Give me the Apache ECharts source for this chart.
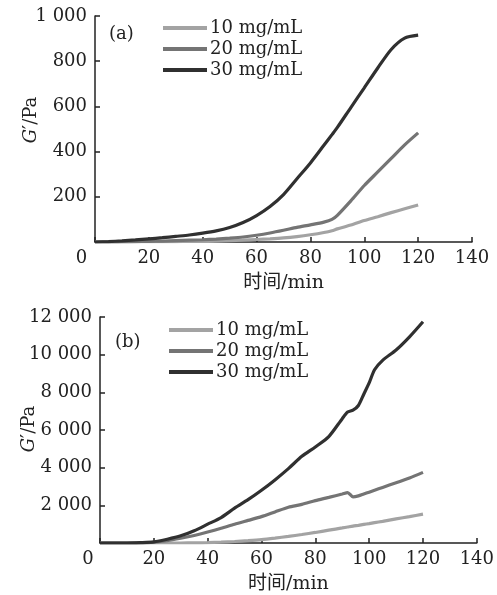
<!DOCTYPE html>
<html>
<head>
<meta charset="utf-8">
<script src="https://cdn.jsdelivr.net/npm/echarts@6/dist/echarts.min.js"></script>
<style>
  html, body { margin: 0; padding: 0; background: #fff; }
  #chart { width: 497px; height: 595px; }
</style>
</head>
<body>
<div id="chart"></div>
<script>
// 图 (a)
const timeA = [0, 5, 10, 15, 20, 25, 30, 35, 40, 45, 50, 55, 60, 65, 70, 75, 80, 85, 88, 90, 95, 100, 105, 110, 115, 120];
const a10 = [0, 0, 0, 1, 1, 2, 2, 3, 3, 4, 6, 8, 11, 14, 18, 24, 32, 42, 50, 58, 75, 95, 112, 130, 147, 164];
const a20 = [0, 0, 1, 2, 3, 4, 6, 8, 10, 13, 17, 22, 30, 40, 52, 65, 76, 88, 100, 118, 182, 250, 310, 370, 430, 483];
const a30 = [0, 2, 5, 9, 14, 19, 25, 31, 39, 49, 64, 86, 117, 157, 210, 280, 350, 428, 475, 507, 595, 682, 770, 852, 902, 915];

// 图 (b)
const timeB = [0, 5, 10, 15, 20, 25, 30, 35, 40, 45, 50, 55, 60, 65, 70, 75, 80, 85, 90, 92, 94, 96, 98, 100, 102, 105, 110, 115, 120];
const b10 = [0, 0, 0, 0, 0, 0, 0, 5, 20, 45, 80, 125, 180, 260, 350, 450, 560, 680, 800, 850, 900, 940, 985, 1030, 1080, 1150, 1280, 1400, 1530];
const b20 = [0, 0, 0, 5, 40, 120, 250, 400, 580, 780, 1000, 1200, 1400, 1650, 1900, 2050, 2250, 2420, 2600, 2680, 2450, 2500, 2600, 2700, 2800, 2950, 3200, 3450, 3750];
const b30 = [0, 0, 0, 20, 60, 200, 380, 650, 1000, 1350, 1850, 2300, 2800, 3350, 3950, 4600, 5100, 5650, 6600, 6950, 7050, 7300, 7900, 8500, 9200, 9700, 10250, 10950, 11750];

const names = ['10 mg/mL', '20 mg/mL', '30 mg/mL'];
const colors = ['#a3a3a3', '#747474', '#303030'];
const serif = 'DejaVu Serif';
const fs = 18;

const zip = (xs, ys) => xs.map((x, i) => [x, ys[i]]);
const fmtNum = (v) => String(v).replace(/\B(?=(\d{3})+(?!\d))/g, ' ');

const chart = echarts.init(document.getElementById('chart'));

const xAxisBase = (gridIndex, zeroPad, nameGap) => ({
  type: 'value',
  gridIndex,
  min: 0,
  max: 140,
  interval: 20,
  name: '时间/min',
  nameLocation: 'middle',
  nameGap,
  nameMoveOverlap: false,
  nameTextStyle: { fontFamily: serif + ', Noto Sans CJK SC', fontSize: 19, color: '#222' },
  axisLine: { lineStyle: { color: '#222', width: 1.5 } },
  axisTick: { inside: true, length: 5, lineStyle: { color: '#222', width: 1.5 } },
  axisLabel: {
    fontFamily: serif,
    fontSize: fs,
    color: '#222',
    margin: 7,
    formatter: (v) => (v === 0 ? '{z|0}' : String(v)),
    rich: { z: { fontFamily: serif, fontSize: fs, color: '#222', padding: [0, zeroPad, 0, 0] } },
  },
  splitLine: { show: false },
});

const yAxisBase = (gridIndex, max, interval, nameGap, shift) => ({
  type: 'value',
  gridIndex,
  min: 0,
  max,
  interval,
  name: '{i|G}{n|′/Pa}',
  nameLocation: 'middle',
  nameGap,
  nameMoveOverlap: false,
  nameRotate: 90,
  nameTextStyle: {
    padding: [0, 0, 0, shift],
    rich: {
      i: { fontFamily: serif, fontSize: fs, fontStyle: 'italic', color: '#222' },
      n: { fontFamily: serif, fontSize: fs, color: '#222' },
    },
  },
  axisLine: { lineStyle: { color: '#222', width: 1.5 } },
  axisTick: { inside: true, length: 5, lineStyle: { color: '#222', width: 1.5 } },
  axisLabel: {
    fontFamily: serif,
    fontSize: fs,
    color: '#222',
    margin: 8,
    formatter: (v) => (v === 0 ? '' : fmtNum(v)),
  },
  splitLine: { show: false },
});

const lineSeries = (name, color, data, idx) => ({
  name,
  type: 'line',
  xAxisIndex: idx,
  yAxisIndex: idx,
  data,
  showSymbol: false,
  smooth: 0.25,
  lineStyle: { color, width: 3.2 },
  itemStyle: { color },
  emphasis: { disabled: true },
  silent: true,
});

const legendBase = (left, top) => ({
  orient: 'vertical',
  left,
  top,
  padding: 0,
  icon: 'rect',
  itemWidth: 44,
  itemHeight: 4,
  itemGap: 3,
  data: names,
  textStyle: { fontFamily: serif, fontSize: fs, color: '#222', padding: [0, 0, 0, -2] },
  selectedMode: false,
});

chart.setOption({
  animation: false,
  grid: [
    { left: 95, top: 16, width: 377, height: 226 },
    { left: 100, top: 317, width: 377, height: 227 },
  ],
  legend: [legendBase(163, 19), legendBase(169, 321)],
  graphic: [
    { type: 'text', left: 109, top: 25, style: { text: '(a)', font: fs + 'px ' + serif, fill: '#222' } },
    { type: 'text', left: 115, top: 333, style: { text: '(b)', font: fs + 'px ' + serif, fill: '#222' } },
  ],
  xAxis: [xAxisBase(0, 27, 32), xAxisBase(1, 24, 32)],
  yAxis: [yAxisBase(0, 1000, 200, 55, 18), yAxisBase(1, 12000, 2000, 62, 2)],
  series: [
    lineSeries(names[0], colors[0], zip(timeA, a10), 0),
    lineSeries(names[1], colors[1], zip(timeA, a20), 0),
    lineSeries(names[2], colors[2], zip(timeA, a30), 0),
    lineSeries(names[0], colors[0], zip(timeB, b10), 1),
    lineSeries(names[1], colors[1], zip(timeB, b20), 1),
    lineSeries(names[2], colors[2], zip(timeB, b30), 1),
  ],
});

window.addEventListener('resize', () => {
  chart.resize();
});
</script>
</body>
</html>
